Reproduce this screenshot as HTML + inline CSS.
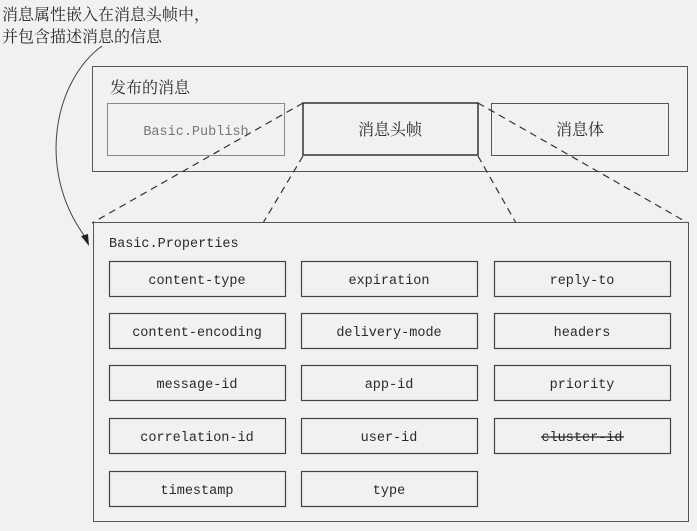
<!DOCTYPE html>
<html><head><meta charset="utf-8"><style>
html,body{margin:0;padding:0;background:#f1f1ef;}
svg{display:block;}
.cj{font-family:"Liberation Serif","Noto Serif CJK SC",serif;font-size:16px;fill:#2a2a2a;}
.mono{font-family:"Liberation Mono",monospace;font-size:13.5px;fill:#2a2a2a;}
</style></head><body>
<svg width="697" height="531" viewBox="0 0 697 531" xmlns="http://www.w3.org/2000/svg">
<rect x="0" y="0" width="697" height="531" fill="#f1f1ef"/>
<text class="cj" x="2" y="20">消息属性嵌入在消息头帧中，</text>
<text class="cj" x="2" y="42">并包含描述消息的信息</text>
<path d="M102,46 C55,80 35,170 86,238" fill="none" stroke="#444" stroke-width="1"/>
<polygon points="89,246 81,236 88,234" fill="#222"/>

<rect x="92.5" y="66.5" width="595" height="105" fill="none" stroke="#555" stroke-width="1"/>
<text class="cj" x="110" y="93">发布的消息</text>
<rect x="107.5" y="103.5" width="177" height="52" fill="none" stroke="#888" stroke-width="1"/>
<text class="mono" x="196" y="135" text-anchor="middle" style="fill:#777">Basic.Publish</text>
<rect x="491.5" y="103.5" width="177" height="52" fill="none" stroke="#555" stroke-width="1"/>
<text class="cj" x="580" y="135" text-anchor="middle">消息体</text>

<g stroke="#333" stroke-width="1.2" stroke-dasharray="7,5" fill="none">
<line x1="303" y1="103" x2="92" y2="223"/>
<line x1="303" y1="156" x2="263" y2="223"/>
<line x1="478" y1="156" x2="516" y2="223"/>
<line x1="478" y1="103" x2="688" y2="223"/>
</g>
<rect x="303" y="103" width="175" height="52" fill="#f1f1ef" stroke="#333" stroke-width="1.5"/>
<text class="cj" x="390" y="135" text-anchor="middle">消息头帧</text>

<rect x="93.5" y="222.5" width="595" height="299" fill="#f1f1ef" stroke="#555" stroke-width="1"/>
<text class="mono" x="109" y="247">Basic.Properties</text>
<g fill="none" stroke="#444" stroke-width="1.2">
<rect x="109.5" y="261.5" width="176" height="35"/><rect x="301.5" y="261.5" width="176" height="35"/><rect x="494.5" y="261.5" width="176" height="35"/>
<rect x="109.5" y="313.5" width="176" height="35"/><rect x="301.5" y="313.5" width="176" height="35"/><rect x="494.5" y="313.5" width="176" height="35"/>
<rect x="109.5" y="365.5" width="176" height="35"/><rect x="301.5" y="365.5" width="176" height="35"/><rect x="494.5" y="365.5" width="176" height="35"/>
<rect x="109.5" y="418.5" width="176" height="35"/><rect x="301.5" y="418.5" width="176" height="35"/><rect x="494.5" y="418.5" width="176" height="35"/>
<rect x="109.5" y="471.5" width="176" height="35"/><rect x="301.5" y="471.5" width="176" height="35"/>
</g>
<text class="mono" x="197" y="284" text-anchor="middle">content-type</text>
<text class="mono" x="389" y="284" text-anchor="middle">expiration</text>
<text class="mono" x="582" y="284" text-anchor="middle">reply-to</text>
<text class="mono" x="197" y="336" text-anchor="middle">content-encoding</text>
<text class="mono" x="389" y="336" text-anchor="middle">delivery-mode</text>
<text class="mono" x="582" y="336" text-anchor="middle">headers</text>
<text class="mono" x="197" y="388" text-anchor="middle">message-id</text>
<text class="mono" x="389" y="388" text-anchor="middle">app-id</text>
<text class="mono" x="582" y="388" text-anchor="middle">priority</text>
<text class="mono" x="197" y="441" text-anchor="middle">correlation-id</text>
<text class="mono" x="389" y="441" text-anchor="middle">user-id</text>
<text class="mono" x="582" y="441" text-anchor="middle">cluster-id</text>
<text class="mono" x="197" y="494" text-anchor="middle">timestamp</text>
<text class="mono" x="389" y="494" text-anchor="middle">type</text>
<line x1="541" y1="437" x2="624" y2="437" stroke="#222" stroke-width="1.2"/>
</svg>
</body></html>
